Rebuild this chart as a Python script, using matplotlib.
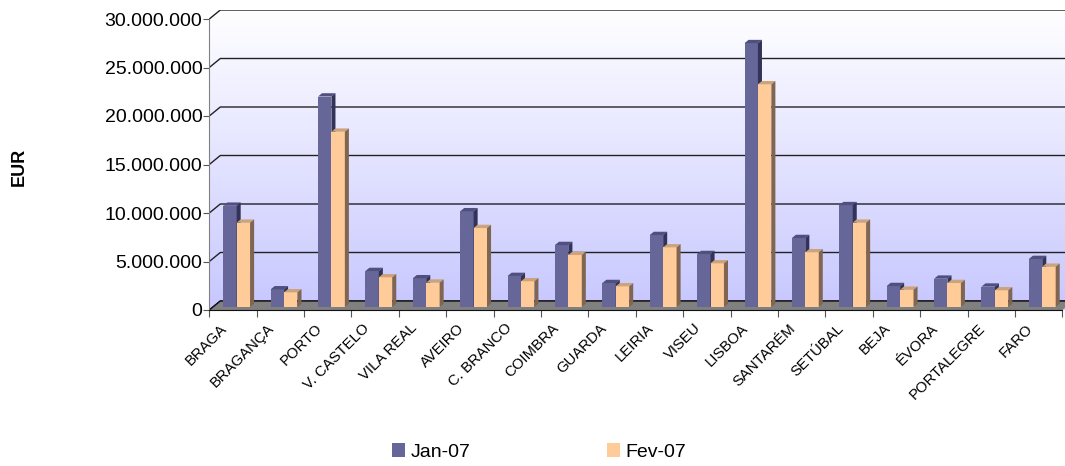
import numpy as np
import matplotlib
matplotlib.use('Agg')
import matplotlib.pyplot as plt
from matplotlib.patches import Patch
from matplotlib.transforms import ScaledTranslation

plt.rcParams['font.family'] = ['Liberation Sans', 'DejaVu Sans']

districts = ['BRAGA', 'BRAGANÇA', 'PORTO', 'V. CASTELO', 'VILA REAL', 'AVEIRO',
             'C. BRANCO', 'COIMBRA', 'GUARDA', 'LEIRIA', 'VISEU', 'LISBOA',
             'SANTARÉM', 'SETÚBAL', 'BEJA', 'ÉVORA', 'PORTALEGRE', 'FARO']
jan07 = [10440000, 1820000, 21700000, 3710000, 2960000, 9870000,
         3200000, 6390000, 2470000, 7420000, 5460000, 27200000,
         7110000, 10500000, 2160000, 2920000, 2100000, 4950000]
fev07 = [8690000, 1510000, 18070000, 3060000, 2510000, 8140000,
         2650000, 5360000, 2130000, 6150000, 4500000, 22960000,
         5640000, 8690000, 1780000, 2470000, 1720000, 4150000]
series_names = ['Jan-07', 'Fev-07']
yticks = list(range(0, 30000001, 5000000))

W, H = 1065, 466
fig = plt.figure(figsize=(W / 100, H / 100), dpi=100)

# front plane in pixels: x 209..1062, y 310 (0) .. 19 (30M); depth offset 11px right, 9px up
n = len(districts)
px_per_cat = (1062 - 209.3) / n
px_per_eur = 291 / 30000000
DX = 11 / px_per_cat
DY = 9 / px_per_eur
ymax = 30000000

left, bottom = 209.3 / W, (H - 310) / H
ax = fig.add_axes([left, bottom, (853 + 11) / W, (310 - 10) / H])
ax.set_xlim(0, n + DX)
ax.set_ylim(0, ymax + DY)

# back wall + left wall gradient
grad = np.linspace(0, 1, 256).reshape(-1, 1)
top_c = np.array([1.0, 1.0, 1.0])
bot_c = np.array([0.78, 0.78, 1.0])
img = bot_c * (1 - grad[..., None]) + top_c * grad[..., None]
ax.imshow(img, extent=[0, n + DX, 0, ymax + DY], origin='lower', aspect='auto', zorder=0)
ax.fill([0, 0, DX], [ymax, ymax + DY, ymax + DY], color='white', zorder=0.5, lw=0)

# gridlines on back wall and left wall
for v in yticks:
    ax.plot([0, DX, n + DX], [v, v + DY, v + DY], color='#222222', lw=1, zorder=1,
            solid_capstyle='butt')

# floor
ax.fill([0, n, n + DX, DX], [0, 0, DY, DY], color='#808080', lw=0, zorder=2)
ax.plot([0, DX, n + DX], [0, DY, DY], color='#111111', lw=1, zorder=2)

# 3d-looking columns
colors = [('#666699', '#50507f', '#33335a'), ('#ffcc99', '#cca37a', '#806650')]
t0, t1 = 0.333, 0.70
a, b = t0 * DX, t0 * DY
c, d = t1 * DX, t1 * DY
bw = 0.283
gap = (1 - 2 * bw) / 2
for i in range(n):
    for s, vals in enumerate([jan07, fev07]):
        h = vals[i]
        x0 = i + gap + s * bw
        front, topc, side = colors[s]
        z = 3 + i * 0.01 + s * 0.005
        ax.fill([x0 + a, x0 + bw + a, x0 + bw + a, x0 + a],
                [b, b, h + b, h + b], color=front, lw=0, zorder=z)
        ax.fill([x0 + a, x0 + bw + a, x0 + bw + c, x0 + c],
                [h + b, h + b, h + d, h + d], color=topc, lw=0, zorder=z)
        ax.fill([x0 + bw + a, x0 + bw + c, x0 + bw + c, x0 + bw + a],
                [b, d, h + d, h + b], color=side, lw=0, zorder=z)

# axes styling
for sp in ['top', 'right']:
    ax.spines[sp].set_visible(False)
ax.spines['left'].set_bounds(0, ymax)
ax.spines['left'].set_color('#808080')
ax.spines['bottom'].set_bounds(0, n)
ax.spines['bottom'].set_color('#111111')
ax.spines['left'].set_zorder(5)
ax.spines['bottom'].set_zorder(5)

ax.set_yticks(yticks)
ax.set_yticklabels([f'{v:,}'.replace(',', '.') for v in yticks], fontsize=14)
ax.tick_params(axis='y', direction='out', length=4, color='#555555', pad=1)

ax.set_xticks(range(n + 1))
ax.set_xticklabels([])
ax.set_xticks([i + 0.5 for i in range(n)], minor=True)
ax.set_xticklabels(districts, minor=True, rotation=45, ha='right', va='top',
                   rotation_mode='anchor', fontsize=10.7)
ax.tick_params(axis='x', which='major', direction='out', length=5, color='#555555')
ax.tick_params(axis='x', which='minor', length=0, pad=8)
shift = ScaledTranslation(-13 / 100, 0, fig.dpi_scale_trans)
for lab in ax.get_xticklabels(minor=True):
    lab.set_transform(lab.get_transform() + shift)

fig.text(19 / W, 1 - 167 / H, 'EUR', rotation=90, ha='center', va='center',
         fontsize=13, fontweight='bold')

handles = [Patch(facecolor=colors[0][0]), Patch(facecolor=colors[1][0])]
fig.legend(handles, series_names, loc='center', bbox_to_anchor=(539 / W, 1 - 452 / H),
           ncol=2, frameon=False, fontsize=14, handlelength=0.67, handleheight=0.67,
           handletextpad=0.3, columnspacing=7.0)

fig.savefig('out.png', dpi=100)
